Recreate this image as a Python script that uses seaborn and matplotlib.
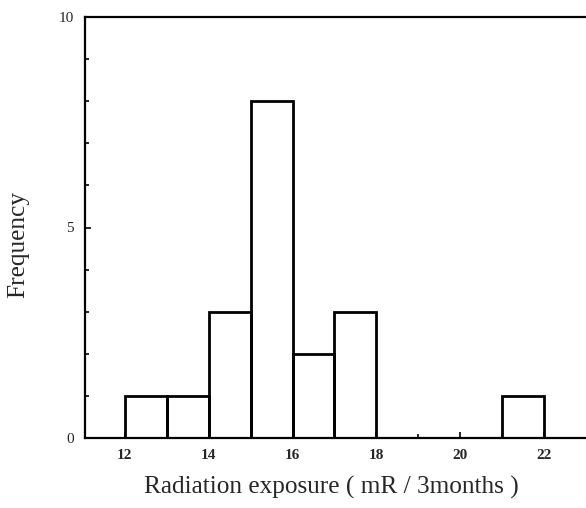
import numpy as np
import pandas as pd
import matplotlib
matplotlib.use("Agg")
import matplotlib.pyplot as plt
import seaborn as sns

# Data (bin left edge -> frequency)
bin_left = [12, 13, 14, 15, 16, 17, 21]
frequency = [1, 1, 3, 8, 2, 3, 1]
x_ticks = [12, 14, 16, 18, 20, 22]
y_ticks = [0, 5, 10]

df = pd.DataFrame({"exposure": [b + 0.5 for b in bin_left], "freq": frequency})

sns.set_style("white")
plt.rcParams["font.family"] = ["Liberation Serif", "DejaVu Serif"]

fig = plt.figure(figsize=(5.86, 5.08), dpi=100)
ax = fig.add_axes([85 / 586, 1 - 438 / 508, 1 - 85 / 586, (438 - 17) / 508])

sns.histplot(data=df, x="exposure", weights="freq", binwidth=1, binrange=(12, 22),
             fill=False, color="black", linewidth=2.0, ax=ax, element="bars")

ax.set_xlim(11.05, 23.0)
ax.set_ylim(0, 10)
ax.set_xticks(x_ticks)
ax.set_xticks(range(12, 23), minor=True)
ax.set_yticks(y_ticks)
ax.set_yticks(range(0, 11), minor=True)
ax.set_xticklabels([str(t) for t in x_ticks], fontsize=11, fontweight="bold")
ax.set_yticklabels([str(t) for t in y_ticks], fontsize=11)
ax.tick_params(axis="both", which="both", direction="in", color="black", width=1.2,
               bottom=True, left=True, top=False, right=False)
ax.tick_params(axis="both", which="major", length=4, pad=8)
ax.tick_params(axis="both", which="minor", length=3)

for s in ["left", "bottom", "top"]:
    ax.spines[s].set_visible(True)
    ax.spines[s].set_color("black")
    ax.spines[s].set_linewidth(1.6)
ax.spines["right"].set_visible(False)

ax.set_xlabel("Radiation exposure ( mR / 3months )", fontsize=18.2, va="center")
ax.xaxis.set_label_coords((331 - 85) / 501, -(487 - 438) / 421)
ax.set_ylabel("Frequency", fontsize=18.3, va="center")
ax.yaxis.set_label_coords(-(85 - 18) / 501, (438 - 244) / 421)

fig.savefig("out.png", dpi=100)
